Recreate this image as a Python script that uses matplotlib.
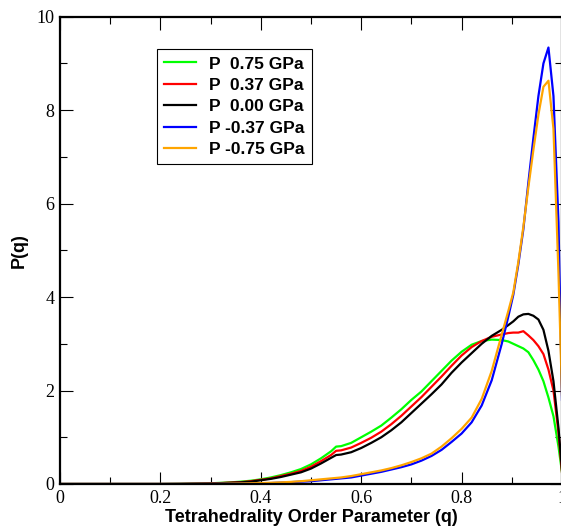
import matplotlib
matplotlib.use("Agg")
import matplotlib.pyplot as plt
from matplotlib.ticker import MultipleLocator

# tetrahedrality order parameter grid
q = [0.0, 0.1, 0.2, 0.24, 0.28, 0.30, 0.32, 0.34, 0.36, 0.38, 0.40, 0.42, 0.44,
     0.46, 0.48, 0.50, 0.52, 0.54, 0.55, 0.56, 0.58, 0.60, 0.62, 0.64, 0.66,
     0.68, 0.70, 0.72, 0.74, 0.76, 0.78, 0.80, 0.82, 0.84, 0.86, 0.88, 0.893,
     0.903, 0.913, 0.923, 0.933, 0.943, 0.953, 0.963, 0.973, 0.983, 0.993, 1.0]

p_075 = [0, 0, 0, 0.003, 0.01, 0.015, 0.025, 0.035, 0.05, 0.07, 0.10, 0.14, 0.19,
         0.25, 0.32, 0.42, 0.55, 0.70, 0.80, 0.81, 0.88, 1.00, 1.12, 1.25, 1.42,
         1.60, 1.80, 1.98, 2.20, 2.42, 2.64, 2.83, 2.98, 3.06, 3.09, 3.08, 3.05,
         3.00, 2.95, 2.90, 2.82, 2.65, 2.45, 2.20, 1.85, 1.45, 0.80, 0.25]

p_037 = [0, 0, 0, 0.002, 0.008, 0.012, 0.02, 0.03, 0.04, 0.06, 0.09, 0.12, 0.17,
         0.22, 0.28, 0.37, 0.49, 0.62, 0.71, 0.72, 0.78, 0.88, 0.99, 1.12, 1.28,
         1.46, 1.66, 1.86, 2.08, 2.30, 2.53, 2.75, 2.93, 3.06, 3.15, 3.20, 3.23,
         3.24, 3.24, 3.27, 3.18, 3.08, 2.95, 2.78, 2.45, 2.00, 1.10, 0.25]

p_000 = [0, 0, 0, 0.002, 0.006, 0.01, 0.017, 0.025, 0.035, 0.05, 0.08, 0.11, 0.15,
         0.20, 0.25, 0.33, 0.44, 0.56, 0.62, 0.63, 0.68, 0.77, 0.88, 1.00, 1.15,
         1.32, 1.52, 1.72, 1.92, 2.13, 2.38, 2.60, 2.80, 3.00, 3.17, 3.30, 3.40,
         3.48, 3.58, 3.63, 3.64, 3.60, 3.52, 3.30, 2.85, 2.20, 1.20, 0.30]

p_m037 = [0, 0, 0, 0, 0.002, 0.003, 0.005, 0.007, 0.01, 0.012, 0.015, 0.02, 0.03,
          0.04, 0.05, 0.06, 0.08, 0.10, 0.11, 0.12, 0.14, 0.18, 0.22, 0.26, 0.31,
          0.36, 0.42, 0.50, 0.60, 0.73, 0.90, 1.08, 1.32, 1.68, 2.22, 3.00, 3.58,
          4.05, 4.70, 5.45, 6.45, 7.40, 8.30, 9.00, 9.34, 8.30, 5.60, 1.80]

p_m075 = [0, 0, 0, 0, 0.002, 0.004, 0.006, 0.009, 0.012, 0.016, 0.02, 0.027, 0.035,
          0.045, 0.06, 0.08, 0.10, 0.12, 0.13, 0.14, 0.17, 0.21, 0.25, 0.29, 0.34,
          0.40, 0.47, 0.55, 0.65, 0.80, 0.98, 1.18, 1.42, 1.82, 2.42, 3.20, 3.70,
          4.10, 4.75, 5.50, 6.35, 7.15, 7.90, 8.50, 8.63, 7.60, 4.50, 1.90]

labels = ["P  0.75 GPa", "P  0.37 GPa", "P  0.00 GPa", "P -0.37 GPa", "P -0.75 GPa"]
colors = ["#00ff00", "#ff0000", "#000000", "#0000ff", "#ffa500"]
series = [p_075, p_037, p_000, p_m037, p_m075]

fig = plt.figure(figsize=(5.61, 5.31), dpi=100)
ax = fig.add_axes([60 / 561, 47 / 531, 502 / 561, 467.3 / 531])

for ys, c, lab in zip(series, colors, labels):
    ax.plot(q, ys, color=c, lw=1.6, label=lab)

ax.set_xlim(0, 1)
ax.set_ylim(0, 10)
ax.xaxis.set_major_locator(MultipleLocator(0.2))
ax.xaxis.set_minor_locator(MultipleLocator(0.1))
ax.yaxis.set_major_locator(MultipleLocator(2))
ax.yaxis.set_minor_locator(MultipleLocator(1))
ax.set_xticks([0, 0.2, 0.4, 0.6, 0.8, 1.0])
ax.set_xticklabels(["0", "0.2", "0.4", "0.6", "0.8", "1"])
ax.tick_params(which="both", direction="in", top=True, right=True, width=0.8)
ax.tick_params(which="major", length=9)
ax.tick_params(which="minor", length=5)
ax.tick_params(axis="x", pad=4)
ax.tick_params(axis="y", pad=4)
for t in ax.get_xticklabels() + ax.get_yticklabels():
    t.set_fontfamily("Liberation Serif")
    t.set_fontsize(13)
for s in ax.spines.values():
    s.set_linewidth(1.6)

ax.set_xlabel("Tetrahedrality Order Parameter (q)", family="Liberation Sans",
              fontsize=13, fontweight="bold", labelpad=2)
ax.set_ylabel("P(q)", family="Liberation Sans", fontsize=13, fontweight="bold",
              labelpad=6)

leg = ax.legend(loc="upper left", bbox_to_anchor=(0.194, 0.93), frameon=True,
                fancybox=False, edgecolor="black", framealpha=1,
                prop={"family": "Liberation Sans", "weight": "bold", "size": 12.5},
                handlelength=1.8, handletextpad=0.8, labelspacing=0.36,
                borderpad=0.4, borderaxespad=0)
leg.get_frame().set_linewidth(0.8)

fig.savefig("out.png", dpi=100)
